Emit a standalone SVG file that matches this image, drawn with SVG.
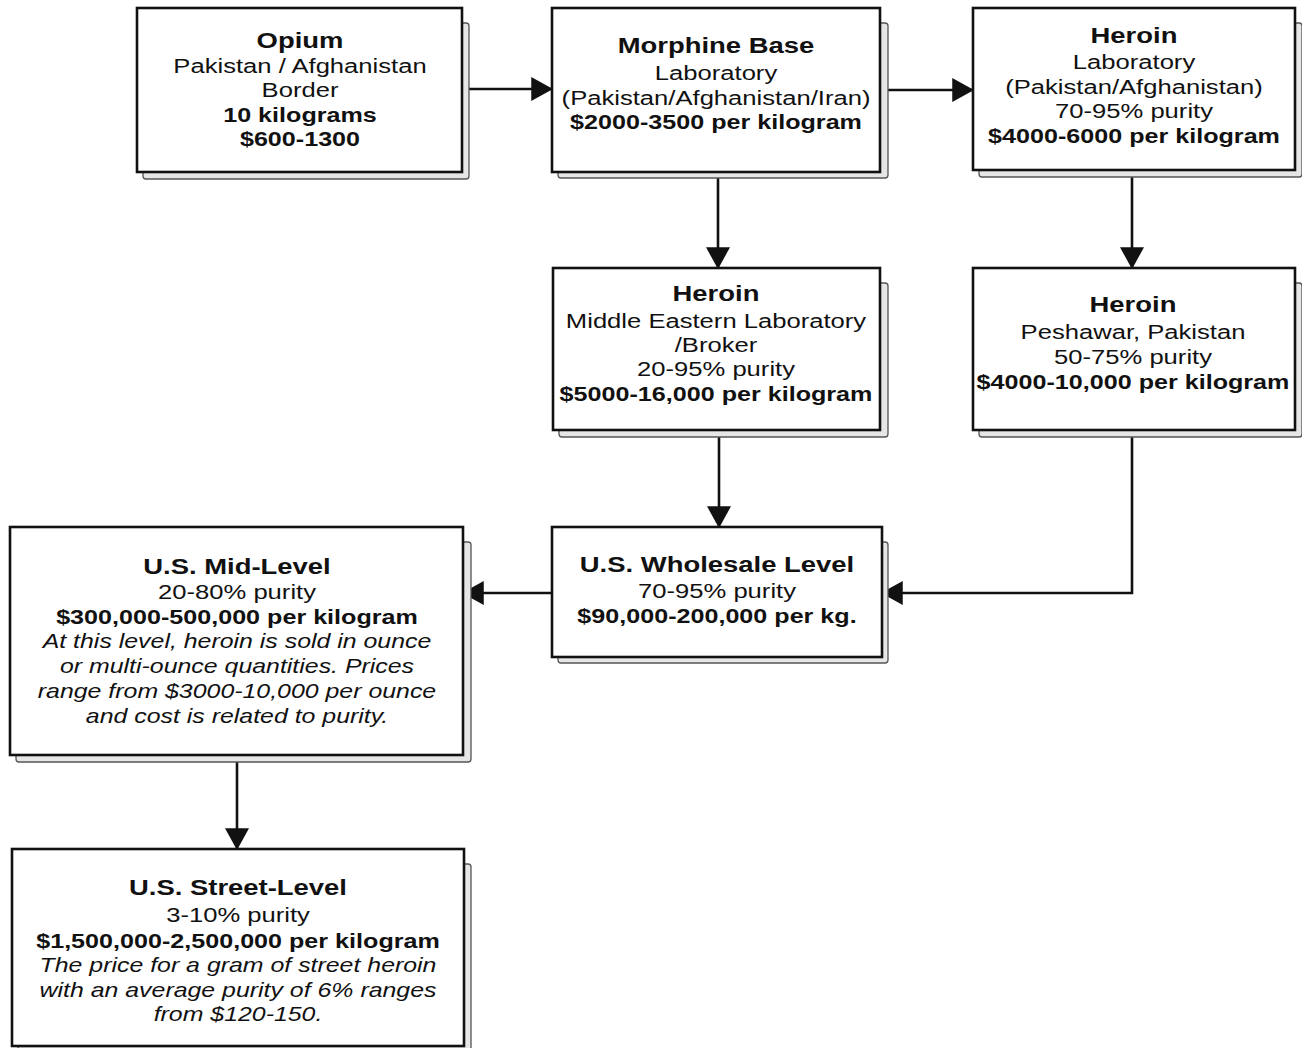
<svg xmlns="http://www.w3.org/2000/svg" width="1302" height="1048" viewBox="0 0 1302 1048">
<defs>
<style>
.box{fill:#fff;stroke:#111;stroke-width:2.6}
.sh{fill:#e6e6e6;stroke:#555;stroke-width:1.3}
.ln{fill:none;stroke:#111;stroke-width:2.6;marker-end:url(#ah)}
text{font-family:"Liberation Sans",Arial,Helvetica,sans-serif;fill:#111;text-anchor:middle}
.tt{font-size:22.5px;font-weight:bold}
.b{font-size:20.6px;font-weight:bold}
.r{font-size:21px}
.i{font-size:20.4px;font-style:italic}
</style>
<marker id="ah" markerUnits="userSpaceOnUse" markerWidth="22" markerHeight="24" viewBox="0 0 20 22" refX="19" refY="11" orient="auto">
<path d="M0,0 L20,11 L0,22 z" fill="#111"/>
</marker>
</defs>
<rect width="1302" height="1048" fill="#fff"/>

<g id="connectors">
<path class="ln" d="M462,89 H552"/>
<path class="ln" d="M880,90 H973"/>
<path class="ln" d="M718,172 V268"/>
<path class="ln" d="M1132,170 V268"/>
<path class="ln" d="M719,430 V527"/>
<path class="ln" d="M1132,430 V593 H882"/>
<path class="ln" d="M552,593 H463"/>
<path class="ln" d="M237,755 V849"/>
</g>

<g id="opium">
<rect class="sh" x="143" y="23" width="326" height="156" rx="3"/>
<rect class="box" x="137" y="8" width="325" height="164"/>
<g transform="translate(300 0) scale(1.22 1)">
<text class="tt" x="0" y="48">Opium</text>
<text class="r" x="0" y="73">Pakistan / Afghanistan</text>
<text class="r" x="0" y="97">Border</text>
<text class="b" x="0" y="122">10 kilograms</text>
<text class="b" x="0" y="146">$600-1300</text>
</g>
</g>

<g id="morphine">
<rect class="sh" x="558" y="23" width="330" height="155" rx="3"/>
<rect class="box" x="552" y="8" width="328" height="164"/>
<g transform="translate(716 0) scale(1.22 1)">
<text class="tt" x="0" y="53">Morphine Base</text>
<text class="r" x="0" y="80">Laboratory</text>
<text class="r" x="0" y="105">(Pakistan/Afghanistan/Iran)</text>
<text class="b" x="0" y="129">$2000-3500 per kilogram</text>
</g>
</g>

<g id="heroin-lab">
<rect class="sh" x="979" y="23" width="323" height="154" rx="3"/>
<rect class="box" x="973" y="8" width="322" height="162"/>
<g transform="translate(1134 0) scale(1.22 1)">
<text class="tt" x="0" y="43">Heroin</text>
<text class="r" x="0" y="69">Laboratory</text>
<text class="r" x="0" y="94">(Pakistan/Afghanistan)</text>
<text class="r" x="0" y="118">70-95% purity</text>
<text class="b" x="0" y="143">$4000-6000 per kilogram</text>
</g>
</g>

<g id="heroin-middle-east">
<rect class="sh" x="559" y="283" width="329" height="154" rx="3"/>
<rect class="box" x="553" y="268" width="327" height="162"/>
<g transform="translate(716 0) scale(1.22 1)">
<text class="tt" x="0" y="301">Heroin</text>
<text class="r" x="0" y="328">Middle Eastern Laboratory</text>
<text class="r" x="0" y="352">/Broker</text>
<text class="r" x="0" y="376">20-95% purity</text>
<text class="b" x="0" y="401">$5000-16,000 per kilogram</text>
</g>
</g>

<g id="heroin-peshawar">
<rect class="sh" x="979" y="283" width="323" height="154" rx="3"/>
<rect class="box" x="973" y="268" width="322" height="162"/>
<g transform="translate(1133 0) scale(1.22 1)">
<text class="tt" x="0" y="312">Heroin</text>
<text class="r" x="0" y="339">Peshawar, Pakistan</text>
<text class="r" x="0" y="364">50-75% purity</text>
<text class="b" x="0" y="389">$4000-10,000 per kilogram</text>
</g>
</g>

<g id="us-wholesale">
<rect class="sh" x="558" y="542" width="330" height="121" rx="3"/>
<rect class="box" x="552" y="527" width="330" height="130"/>
<g transform="translate(717 0) scale(1.22 1)">
<text class="tt" x="0" y="572">U.S. Wholesale Level</text>
<text class="r" x="0" y="598">70-95% purity</text>
<text class="b" x="0" y="623">$90,000-200,000 per kg.</text>
</g>
</g>

<g id="us-mid-level">
<rect class="sh" x="16" y="542" width="455" height="220" rx="3"/>
<rect class="box" x="10" y="527" width="453" height="228"/>
<g transform="translate(237 0) scale(1.22 1)">
<text class="tt" x="0" y="574">U.S. Mid-Level</text>
<text class="r" x="0" y="599">20-80% purity</text>
<text class="b" x="0" y="624">$300,000-500,000 per kilogram</text>
<text class="i" x="0" y="648">At this level, heroin is sold in ounce</text>
<text class="i" x="0" y="673">or multi-ounce quantities. Prices</text>
<text class="i" x="0" y="698">range from $3000-10,000 per ounce</text>
<text class="i" x="0" y="723">and cost is related to purity.</text>
</g>
</g>

<g id="us-street-level">
<rect class="sh" x="18" y="864" width="453" height="190" rx="3"/>
<rect class="box" x="12" y="849" width="452" height="197"/>
<g transform="translate(238 0) scale(1.22 1)">
<text class="tt" x="0" y="895">U.S. Street-Level</text>
<text class="r" x="0" y="922">3-10% purity</text>
<text class="b" x="0" y="948">$1,500,000-2,500,000 per kilogram</text>
<text class="i" x="0" y="972">The price for a gram of street heroin</text>
<text class="i" x="0" y="997">with an average purity of 6% ranges</text>
<text class="i" x="0" y="1021">from $120-150.</text>
</g>
</g>
</svg>
